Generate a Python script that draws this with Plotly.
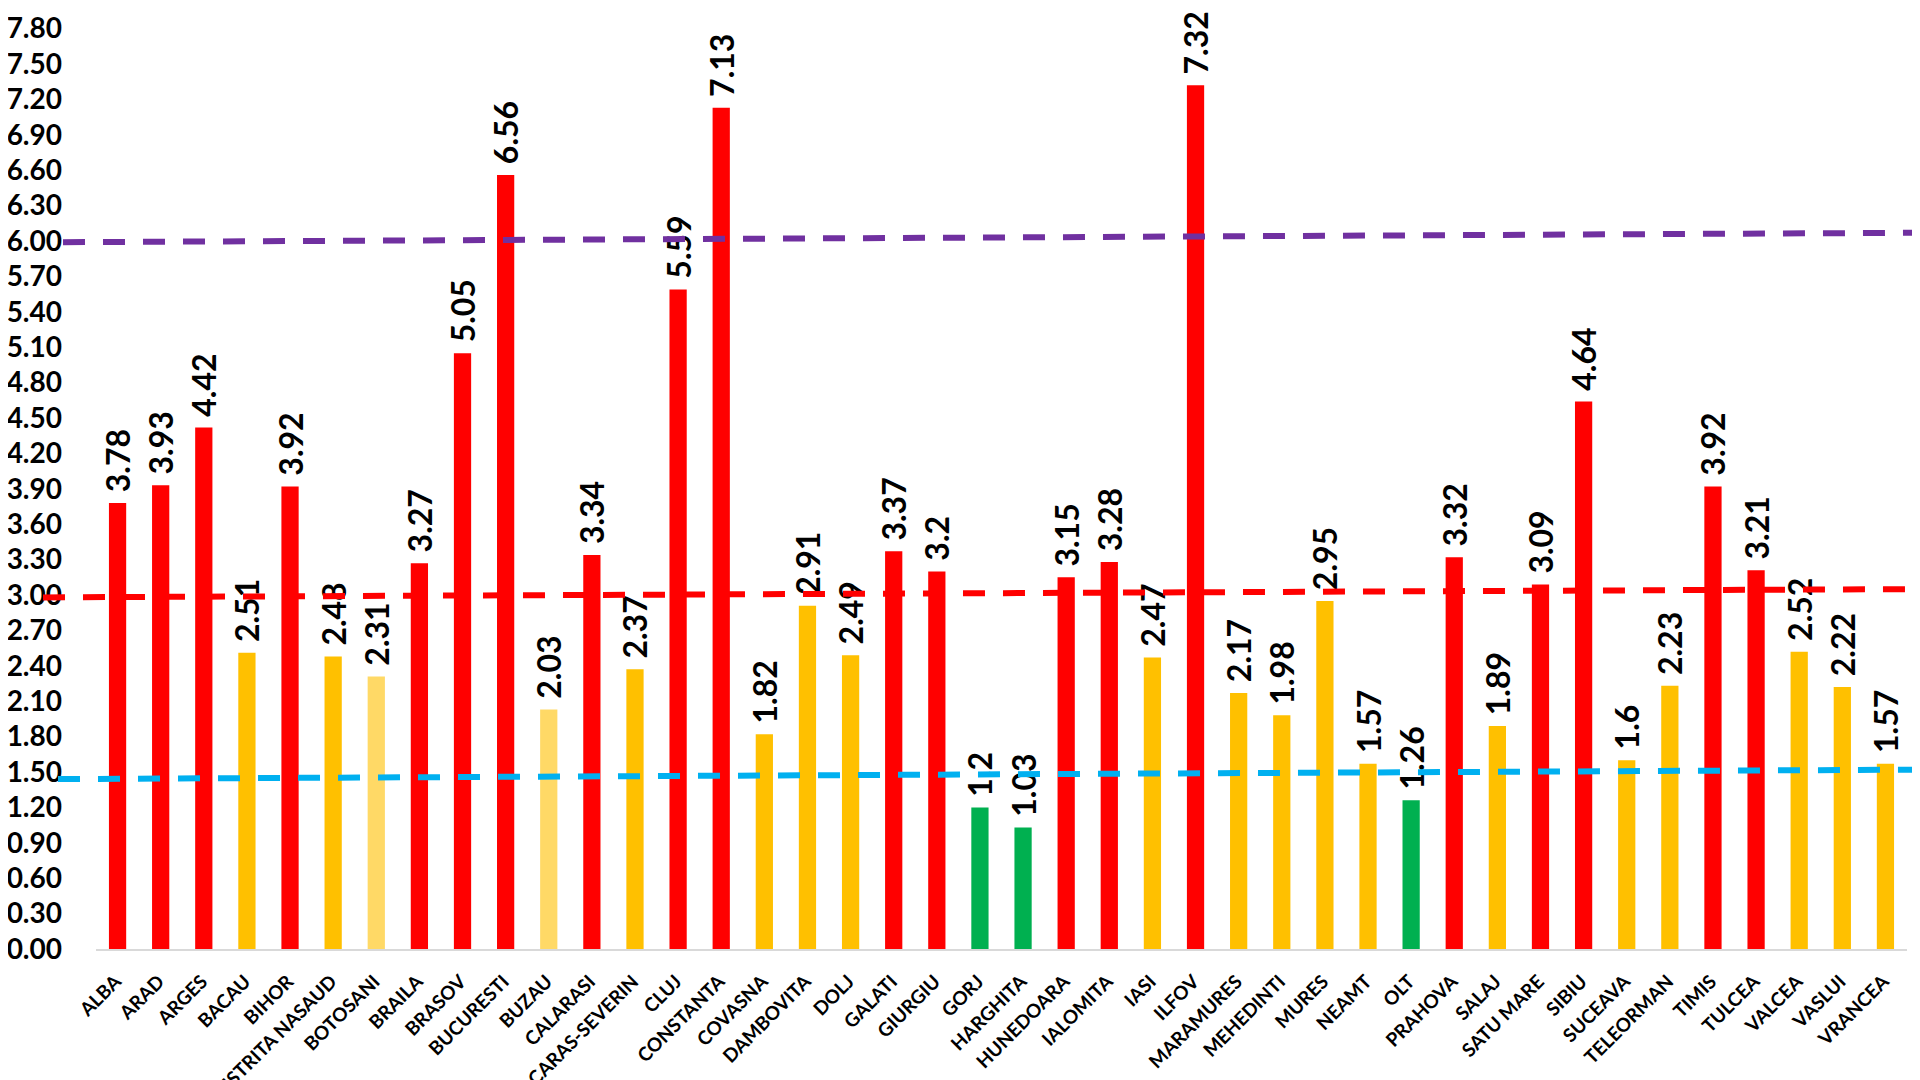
import plotly.graph_objects as go

counties = ["ALBA", "ARAD", "ARGES", "BACAU", "BIHOR", "BISTRITA NASAUD", "BOTOSANI",
            "BRAILA", "BRASOV", "BUCURESTI", "BUZAU", "CALARASI", "CARAS-SEVERIN", "CLUJ",
            "CONSTANTA", "COVASNA", "DAMBOVITA", "DOLJ", "GALATI", "GIURGIU", "GORJ",
            "HARGHITA", "HUNEDOARA", "IALOMITA", "IASI", "ILFOV", "MARAMURES", "MEHEDINTI",
            "MURES", "NEAMT", "OLT", "PRAHOVA", "SALAJ", "SATU MARE", "SIBIU", "SUCEAVA",
            "TELEORMAN", "TIMIS", "TULCEA", "VALCEA", "VASLUI", "VRANCEA"]
rates = [3.78, 3.93, 4.42, 2.51, 3.92, 2.48, 2.31,
         3.27, 5.05, 6.56, 2.03, 3.34, 2.37, 5.59,
         7.13, 1.82, 2.91, 2.49, 3.37, 3.2, 1.2,
         1.03, 3.15, 3.28, 2.47, 7.32, 2.17, 1.98,
         2.95, 1.57, 1.26, 3.32, 1.89, 3.09, 4.64, 1.6,
         2.23, 3.92, 3.21, 2.52, 2.22, 1.57]
# category of each county (R = red, Y = yellow, L = light yellow, G = green)
status = ["R", "R", "R", "Y", "R", "Y", "L",
          "R", "R", "R", "L", "R", "Y", "R",
          "R", "Y", "Y", "Y", "R", "R", "G",
          "G", "R", "R", "Y", "R", "Y", "Y",
          "Y", "Y", "G", "R", "Y", "R", "R", "Y",
          "Y", "R", "R", "Y", "Y", "Y"]
# threshold lines (value at left end, value at right end)
purple_line = [5.99, 6.07]
red_line = [2.98, 3.05]
blue_line = [1.44, 1.52]

status_colors = {"R": "#FF0000", "Y": "#FFC000", "L": "#FFD966", "G": "#00B050"}
bar_colors = [status_colors[s] for s in status]

FONT = "Lato"
fig = go.Figure()
fig.add_trace(go.Bar(
    x=counties, y=rates,
    marker=dict(color=bar_colors, line=dict(width=0)),
    text=["\u00a0" + str(v) for v in rates],
    textposition="outside",
    textangle=-90,
    constraintext="none",
    cliponaxis=False,
    textfont=dict(family=FONT, size=32, color="black", weight="bold"),
))

# the page places the figure 8 px from the top-left corner
OFF = 8
W, H = 1920 - OFF, 1080 - OFF
ml, mr, mt, mb = 96 - OFF, 13, 0, 131
pw = W - ml - mr


def px2paper(px):
    return (px - OFF - ml) / pw


line_specs = [
    (purple_line, "#7030A0", 63, 1917),
    (red_line, "#FF0000", 43, 1909),
    (blue_line, "#00B0F0", 58, 1920),
]
shapes = []
for vals, col, xl, xr in line_specs:
    shapes.append(dict(type="line", xref="paper", yref="y",
                       x0=px2paper(xl), x1=px2paper(xr), y0=vals[0], y1=vals[1],
                       line=dict(color=col, width=6, dash="22px,18px"), layer="above"))
# chart border (right side)
shapes.append(dict(type="line", xref="paper", yref="paper",
                   x0=px2paper(1918), x1=px2paper(1918), y0=-0.2, y1=1.01,
                   line=dict(color="#D9D9D9", width=2), layer="below"))

fig.update_layout(
    width=W, height=H,
    margin=dict(l=ml, r=mr, t=mt, b=mb, autoexpand=False),
    paper_bgcolor="white", plot_bgcolor="white",
    showlegend=False,
    bargap=0.6,
    shapes=shapes,
    font=dict(family=FONT, color="black"),
)
fig.update_xaxes(
    type="category", automargin=False,
    showline=True, linecolor="#D9D9D9", linewidth=2,
    showgrid=False, ticks="",
    tickangle=-45,
    ticklabelstandoff=12, ticklabelshift=-2,
    tickfont=dict(family=FONT, size=19, color="black", weight="bold"),
)
fig.update_yaxes(
    range=[0, 7.975], automargin=False,
    dtick=0.3, tick0=0, tickformat=".2f",
    showgrid=False, zeroline=False, showline=False, ticks="",
    ticklabelstandoff=33,
    tickfont=dict(family=FONT, size=28, color="black", weight="bold"),
)

fig.write_html("out.html")
